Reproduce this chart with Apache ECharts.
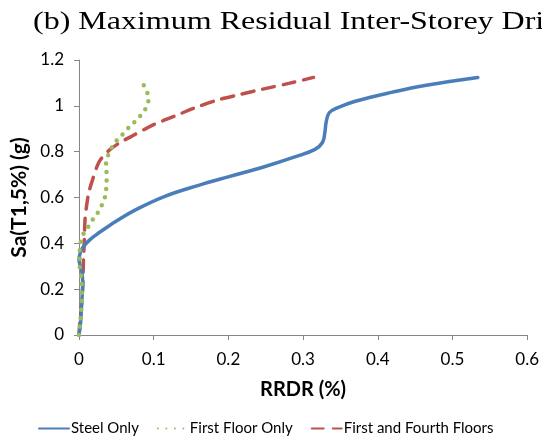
<!DOCTYPE html>
<html>
<head>
<meta charset="utf-8">
<script src="https://cdn.jsdelivr.net/npm/echarts@6/dist/echarts.min.js"></script>
<style>
  html, body { margin: 0; padding: 0; background: #fff; }
  #chart { width: 542px; height: 442px; }
</style>
</head>
<body>
<div id="chart"></div>
<script>
// Residual drift (RRDR, %) vs spectral acceleration Sa(T1,5%) (g)
const seriesNames = ['Steel Only', 'First Floor Only', 'First and Fourth Floors'];

const steelOnly = [
  [0, 0], [0.002, 0.05], [0.003, 0.10], [0.004, 0.16], [0.005, 0.22],
  [0.004, 0.27], [0.001, 0.31], [0.000, 0.33], [0.001, 0.35], [0.003, 0.37],
  [0.007, 0.39], [0.014, 0.414], [0.022, 0.435], [0.032, 0.458], [0.050, 0.497],
  [0.075, 0.545], [0.115, 0.605], [0.159, 0.652], [0.202, 0.692], [0.246, 0.732],
  [0.290, 0.778], [0.316, 0.81], [0.326, 0.84], [0.329, 0.88], [0.331, 0.93],
  [0.335, 0.97], [0.345, 0.99], [0.370, 1.02], [0.420, 1.06], [0.465, 1.09],
  [0.534, 1.124]
];

const firstFloorOnly = [
  [0, 0], [0.002, 0.07], [0.004, 0.18], [0.003, 0.25], [0.001, 0.30],
  [0.001, 0.36], [0.002, 0.40], [0.005, 0.435], [0.011, 0.465], [0.017, 0.497],
  [0.024, 0.528], [0.029, 0.557], [0.034, 0.592], [0.036, 0.628], [0.037, 0.665],
  [0.037, 0.702], [0.036, 0.739], [0.038, 0.774], [0.042, 0.807], [0.048, 0.839],
  [0.056, 0.867], [0.063, 0.893], [0.071, 0.919], [0.079, 0.945], [0.086, 0.973],
  [0.092, 1.005], [0.093, 1.04], [0.089, 1.073], [0.084, 1.108]
];

const firstAndFourthFloors = [
  [0, 0], [0.001, 0.05], [0.003, 0.12], [0.005, 0.22], [0.006, 0.33],
  [0.007, 0.40], [0.008, 0.50], [0.010, 0.56], [0.013, 0.62], [0.018, 0.676],
  [0.027, 0.756], [0.040, 0.805], [0.055, 0.84], [0.071, 0.868], [0.100, 0.918],
  [0.128, 0.955], [0.154, 0.99], [0.185, 1.025], [0.216, 1.05], [0.246, 1.073],
  [0.281, 1.098], [0.314, 1.124]
];

const xTicks = { min: 0, max: 0.6, interval: 0.1 };
const yTicks = { min: 0, max: 1.2, interval: 0.2 };
const titleText = '(b) Maximum Residual Inter-Storey Drift Ratio';

const axisGrey = '#868686';
const labelFont = 'Lato, "Open Sans", sans-serif';
const fmt = v => String(Math.round(v * 10) / 10);

const chart = echarts.init(document.getElementById('chart'), null, { renderer: 'canvas' });

chart.setOption({
  animation: false,
  backgroundColor: '#fff',
  graphic: [{
    type: 'text',
    x: 33,
    y: 22,
    scaleX: 1.28,
    silent: true,
    style: {
      text: titleText,
      font: '25px "Liberation Serif", "DejaVu Serif", serif',
      fill: '#000',
      verticalAlign: 'middle'
    }
  }],
  grid: { left: 79, right: 6, top: 60, bottom: 107, containLabel: false },
  legend: {
    bottom: 6,
    left: 38,
    padding: 0,
    itemWidth: 30,
    itemHeight: 10,
    itemGap: 18,
    itemStyle: { opacity: 0 },
    textStyle: { fontFamily: labelFont, fontSize: 15, color: '#000', padding: [0, 0, 0, -3] },
    data: seriesNames
  },
  xAxis: {
    type: 'value',
    min: xTicks.min, max: xTicks.max, interval: xTicks.interval,
    name: 'RRDR (%)',
    nameLocation: 'middle',
    nameGap: 45,
    nameTextStyle: { fontFamily: labelFont, fontSize: 20, fontWeight: 'bold', color: '#000' },
    axisLine: { show: true, lineStyle: { color: axisGrey, width: 1 } },
    axisTick: { show: true, inside: false, length: 5, lineStyle: { color: axisGrey } },
    axisLabel: {
      margin: 16, fontFamily: labelFont, fontSize: 17, color: '#000',
      showMaxLabel: true, formatter: fmt
    },
    splitLine: { show: false }
  },
  yAxis: {
    type: 'value',
    min: yTicks.min, max: yTicks.max, interval: yTicks.interval,
    name: 'Sa(T1,5%) (g)',
    nameLocation: 'middle',
    nameGap: 36,
    nameTextStyle: { fontFamily: labelFont, fontSize: 21, fontWeight: 'bold', color: '#000' },
    axisLine: { show: true, lineStyle: { color: axisGrey, width: 1 } },
    axisTick: { show: true, inside: false, length: 5, lineStyle: { color: axisGrey } },
    axisLabel: { margin: 15, fontFamily: labelFont, fontSize: 17, color: '#000', formatter: fmt },
    splitLine: { show: false }
  },
  series: [
    {
      name: seriesNames[0],
      type: 'line',
      data: steelOnly,
      symbol: 'none',
      smooth: 0.4,
      lineStyle: { color: '#4A7EBB', width: 3.5, cap: 'round', join: 'round' },
      itemStyle: { color: '#4A7EBB' },
      z: 3
    },
    {
      name: seriesNames[1],
      type: 'line',
      data: firstFloorOnly,
      symbol: 'none',
      smooth: 0.3,
      lineStyle: { color: '#9BBB59', width: 4.5, type: [0, 8.5], cap: 'round' },
      itemStyle: { color: '#9BBB59' },
      z: 4
    },
    {
      name: seriesNames[2],
      type: 'line',
      data: firstAndFourthFloors,
      symbol: 'none',
      smooth: 0.3,
      lineStyle: { color: '#C0504D', width: 3.5, type: [12, 9], cap: 'round' },
      itemStyle: { color: '#C0504D' },
      z: 2
    }
  ]
});
</script>
</body>
</html>
